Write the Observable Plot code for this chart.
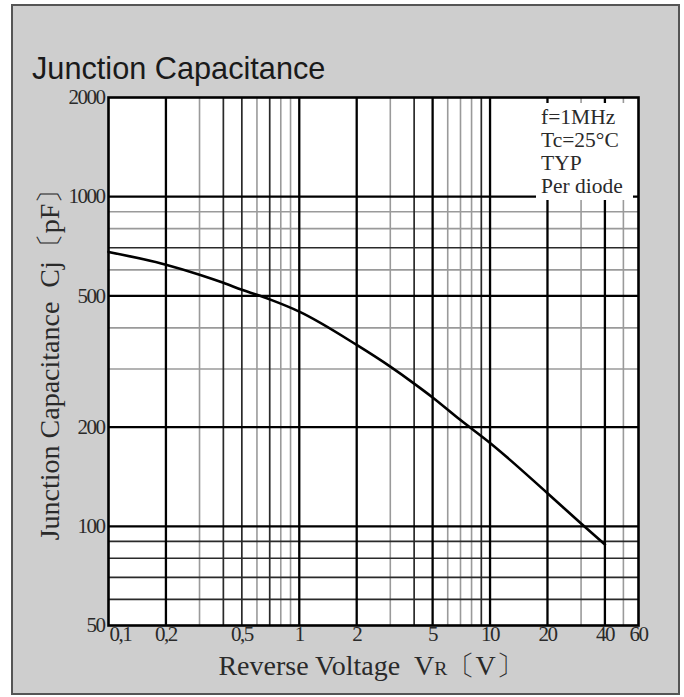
<!DOCTYPE html>
<html><head><meta charset="utf-8">
<script src="https://cdn.jsdelivr.net/npm/d3@7"></script>
<script src="https://cdn.jsdelivr.net/npm/@observablehq/plot@0.6"></script>
<style>
body{margin:0;background:#fff;}
#wrap{position:relative;width:684px;height:697px;overflow:hidden;}
#frame{position:absolute;left:11px;top:4px;width:665px;height:687px;background:#cecece;border:2px solid #555;}
#title{position:absolute;left:32px;top:51px;font:30.7px "Liberation Sans",Arial,sans-serif;color:#1a1a1a;white-space:nowrap;}
#chart{position:absolute;left:0;top:75px;}
#note{position:absolute;left:536px;top:103px;width:97px;height:97px;background:#fff;font:21.5px "Liberation Serif",serif;color:#2a2a2a;line-height:23px;padding:3px 0 0 5px;box-sizing:border-box;white-space:nowrap;}
#ylab{position:absolute;left:50px;top:358px;transform:translate(-50%,-50%) rotate(-90deg);font:28px "Liberation Serif",serif;color:#2a2a2a;white-space:nowrap;}
#xlab{position:absolute;left:371px;top:666px;transform:translate(-50%,-50%);font:28px "Liberation Serif",serif;color:#2a2a2a;white-space:nowrap;}
.sub{font-size:0.7em;}
</style></head>
<body>
<div id="wrap">
  <div id="frame"></div>
  <div id="title">Junction Capacitance</div>
  <div id="chart"></div>
  <div id="ylab">Junction Capacitance&nbsp;&nbsp;Cj〔pF〕</div>
  <div id="xlab">Reverse Voltage&nbsp;&nbsp;V<span class="sub">R</span>〔V〕</div>
  <div id="note">f=1MHz<br>Tc=25°C<br>TYP<br>Per diode</div>
</div>
<script>
const volts = [0.1, 0.2, 0.3, 0.4, 0.5, 0.7, 1, 2, 3, 4, 5, 7, 10, 20, 30, 40];
const capacitance = [680, 622, 580, 548, 522, 488, 448, 355, 305, 271, 246, 210, 179, 126, 102, 88];

const xTicks = [0.1, 0.2, 0.5, 1, 2, 5, 10, 20, 40, 60];
const xTickLabels = ["0,1", "0,2", "0,5", "1", "2", "5", "10", "20", "40", "60"];
const yTicks = [50, 100, 200, 500, 1000, 2000];

const majorX = [0.2, 1, 2, 5, 10, 20, 40];
const mediumX = [0.4, 0.5, 0.7, 4, 9];
const lightX = [0.3, 0.6, 0.8, 0.9, 3, 6, 7, 8, 30, 50];
const majorY = [1000, 500, 200, 100];
const mediumY = [700, 90, 80, 70, 60];
const lightY = [900, 800, 600, 400, 300];

const data = volts.map((v, i) => ({v, c: capacitance[i]}));
const labelOf = new Map(xTicks.map((t, i) => [t, xTickLabels[i]]));

const plot = Plot.plot({
  width: 684, height: 622,
  marginLeft: 108, marginRight: 46, marginTop: 22, marginBottom: 72,
  style: {background: "transparent", fontFamily: '"Liberation Serif", serif', color: "#2a2a2a", letterSpacing: "-1.5px"},
  x: {type: "log", domain: [0.1, 60], axis: null},
  y: {type: "log", domain: [50, 2000]},
  marks: [
    Plot.frame({fill: "white"}),
    Plot.ruleX(lightX, {stroke: "#9a9a9a", strokeWidth: 1.6}),
    Plot.ruleY(lightY, {stroke: "#9a9a9a", strokeWidth: 1.6}),
    Plot.ruleX(mediumX, {stroke: "#2a2a2a", strokeWidth: 1.7}),
    Plot.ruleY(mediumY, {stroke: "#2a2a2a", strokeWidth: 1.7}),
    Plot.ruleX(majorX, {stroke: "#000", strokeWidth: 2.3}),
    Plot.ruleY(majorY, {stroke: "#000", strokeWidth: 2.3}),
    Plot.line(data, {x: "v", y: "c", curve: "monotone-x", stroke: "#000", strokeWidth: 2.6}),
    Plot.frame({stroke: "#000", strokeWidth: 2.6}),
    Plot.axisY({ticks: yTicks, tickSize: 0, tickPadding: 4, fontSize: 21, tickFormat: d => String(d), label: null}),
    Plot.text(xTicks.slice(1), {x: d => d, text: d => labelOf.get(d), frameAnchor: "bottom", dy: 15, fontSize: 21}),
    Plot.text([xTicks[0]], {x: d => d, text: d => labelOf.get(d), frameAnchor: "bottom", dy: 15, dx: 1, textAnchor: "start", fontSize: 21})
  ]
});
document.getElementById("chart").appendChild(plot);
</script>
</body></html>
